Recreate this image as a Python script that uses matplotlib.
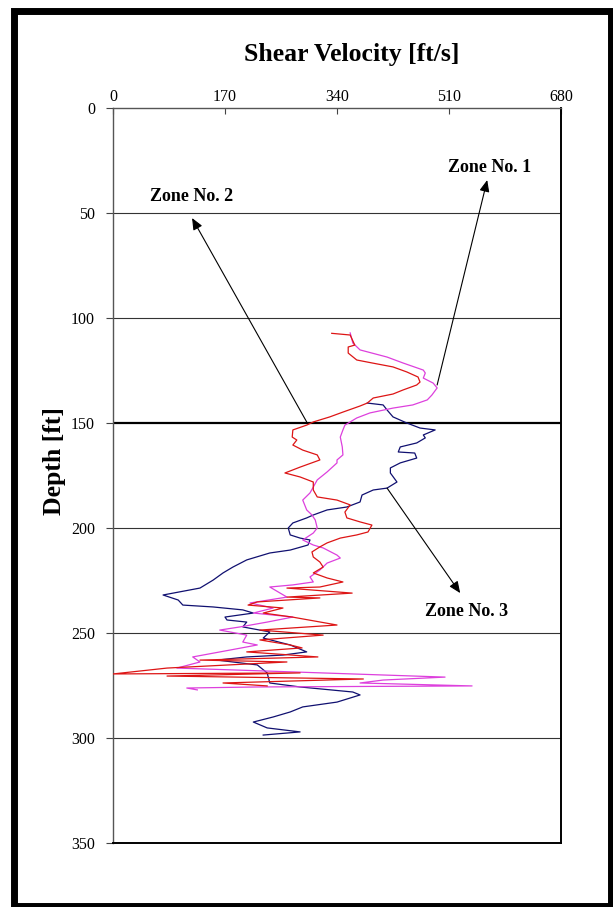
import matplotlib

matplotlib.use("Agg")
import matplotlib.pyplot as plt
from matplotlib.patches import Rectangle

# shear velocity [ft/s] vs depth [ft]
zone2_vel = [332, 360, 367, 357, 357, 370, 393, 425, 446, 463, 466, 461, 440, 425, 395, 386,
             375, 349, 329, 304, 294, 273, 272, 279, 273, 288, 310, 314, 284, 261, 284, 304,
             304, 310, 340, 360, 352, 355, 375, 393, 387, 370, 345, 325, 314, 302, 304, 314,
             319, 304, 325, 349, 314, 264, 363, 264, 314, 219, 205, 258, 228, 272, 340, 223,
             319, 223, 269, 287, 203, 311, 132, 264, 82, 0, 284, 82, 380, 167, 234]
zone2_depth = [107.3, 108.1, 112.9, 113.8, 116.7, 120.0, 121.4, 123.3, 125.7, 128.1, 130.5,
               131.9, 134.3, 136.2, 138.1, 140.5, 141.9, 144.8, 147.1, 149.5, 151.0, 153.3,
               156.7, 158.1, 160.5, 162.9, 165.2, 167.6, 171.0, 173.8, 175.7, 178.1, 181.9,
               185.2, 186.7, 189.0, 192.4, 195.2, 197.1, 198.6, 201.9, 203.3, 204.8, 207.1,
               209.0, 211.4, 213.8, 216.2, 218.6, 221.4, 223.8, 225.7, 228.1, 228.6, 231.0,
               232.9, 233.3, 235.2, 236.7, 238.1, 240.5, 242.4, 246.2, 248.6, 251.0, 253.3,
               255.7, 257.1, 259.0, 261.4, 262.9, 263.8, 266.7, 269.5, 269.0, 270.5, 271.9,
               273.8, 275.2]

zone1_vel = [360, 364, 375, 416, 440, 471, 474, 471, 486, 492, 484, 477, 455, 425, 390, 370,
             352, 349, 345, 348, 349, 340, 340, 325, 310, 304, 299, 288, 294, 302, 307,
             310, 304, 288, 304, 319, 340, 345, 325, 314, 299, 304, 273, 238, 264, 208, 243,
             213, 273, 234, 193, 162, 203, 197, 219, 178, 121, 132, 97, 279, 504, 410, 375,
             545, 219, 112, 128]
zone1_depth = [107.1, 111.9, 115.2, 118.6, 121.4, 124.8, 126.2, 128.6, 131.0, 133.3, 136.7,
               139.0, 141.4, 142.9, 145.2, 147.6, 151.0, 153.3, 156.7, 161.4, 165.2, 167.6,
               169.0, 173.3, 177.1, 180.5, 183.3, 186.7, 191.4, 193.8, 196.2, 200.0,
               202.4, 205.7, 208.1, 209.5, 212.9, 214.3, 216.7, 220.0, 223.3, 225.7, 227.1,
               228.1, 232.9, 235.7, 238.1, 240.5, 242.4, 244.8, 247.1, 248.6, 251.0, 254.3,
               255.7, 258.1, 261.4, 263.8, 266.7, 268.6, 271.0, 272.4, 273.8, 275.2, 275.7,
               276.2, 277.1]

zone3_vel = [386, 410, 416, 425, 446, 466, 489, 471, 474, 461, 436, 433, 458, 461, 436, 421,
             421, 431, 416, 395, 378, 375, 355, 325, 304, 294, 273, 266, 269, 284, 299, 296,
             269, 238, 203, 182, 167, 152, 132, 76, 99, 106, 152, 197, 213, 170, 173, 203,
             197, 238, 228, 269, 294, 258, 203, 158, 219, 234, 238, 284, 364, 375, 340, 288,
             269, 243, 213, 234, 284, 228]
zone3_depth = [140.5, 141.4, 143.8, 147.1, 150.0, 152.4, 153.3, 155.7, 157.1, 159.5, 161.4,
               163.8, 164.3, 166.7, 169.0, 171.4, 173.8, 178.1, 181.0, 181.9, 184.3, 187.6,
               190.0, 191.4, 193.8, 195.2, 197.6, 200.0, 203.3, 204.8, 205.7, 208.1, 210.5,
               211.9, 215.2, 218.6, 221.4, 224.8, 228.6, 231.9, 234.3, 236.7, 237.6, 239.0,
               240.5, 242.4, 243.8, 244.8, 247.1, 249.5, 252.4, 255.7, 259.0, 260.5, 261.4,
               262.9, 265.2, 269.0, 273.8, 275.7, 278.1, 279.5, 282.9, 285.2, 287.6, 290.0,
               292.4, 295.2, 297.1, 298.6]

x_ticks = [0, 170, 340, 510, 680]
depth_ticks = [0, 50, 100, 150, 200, 250, 300, 350]

zone_labels = ["Zone No. 1", "Zone No. 2", "Zone No. 3"]
label_xy = [(572, 28.1), (119, 42.2), (536, 240.0)]
arrow_head = [(568, 34.3), (120, 52.4), (527, 231.0)]
arrow_tail = [(492, 131.9), (294, 149.5), (416, 181.0)]

SERIF = "Liberation Serif"

fig = plt.figure(figsize=(6.13, 9.07), dpi=100)
ax = fig.add_axes([113 / 613, 1 - 843 / 907, 448 / 613, 735 / 907])

for d in depth_ticks[1:-1]:
    if d == 150:
        ax.axhline(d, color="black", lw=1.6, zorder=1)
    else:
        ax.axhline(d, color="#333333", lw=0.8, zorder=1)

ax.plot(zone1_vel, zone1_depth, color="#dd40dd", lw=0.9, zorder=3)
ax.plot(zone2_vel, zone2_depth, color="#dd1515", lw=0.9, zorder=4)
ax.plot(zone3_vel, zone3_depth, color="#101070", lw=0.9, zorder=2)

for text, pos, head, tail in zip(zone_labels, label_xy, arrow_head, arrow_tail):
    ax.text(pos[0], pos[1], text, ha="center", va="center", family=SERIF,
            fontweight="bold", fontsize=13)
    ax.annotate("", xy=head, xytext=tail,
                arrowprops=dict(arrowstyle="-|>,head_length=0.7,head_width=0.3",
                                color="black", lw=0.8, shrinkA=0, shrinkB=0))

ax.set_xlim(0, 680)
ax.set_ylim(350, 0)
ax.xaxis.tick_top()
ax.set_xticks(x_ticks)
ax.set_yticks(depth_ticks)
ax.tick_params(axis="x", direction="in", length=4, pad=2, labelsize=11.5, color="#444444")
ax.tick_params(axis="y", direction="out", length=5, pad=8, labelsize=11.5, color="#444444")
for lab in ax.get_xticklabels() + ax.get_yticklabels():
    lab.set_family(SERIF)

for side in ("top", "left"):
    ax.spines[side].set_color("#555555")
    ax.spines[side].set_linewidth(1.0)
for side in ("right", "bottom"):
    ax.spines[side].set_color("black")
    ax.spines[side].set_linewidth(1.4)

fig.text(352 / 613, 1 - 55 / 907, "Shear Velocity [ft/s]", ha="center", va="center",
         family=SERIF, fontweight="bold", fontsize=18.5)
fig.text(55 / 613, 1 - 461 / 907, "Depth [ft]", ha="center", va="center", rotation=90,
         family=SERIF, fontweight="bold", fontsize=18.5)

fig.patches.append(Rectangle((13.5 / 613, 1 - 905.5 / 907), 597.5 / 613, 894.5 / 907,
                             transform=fig.transFigure, fill=False, ec="black", lw=5))

fig.savefig("out.png", dpi=100)
